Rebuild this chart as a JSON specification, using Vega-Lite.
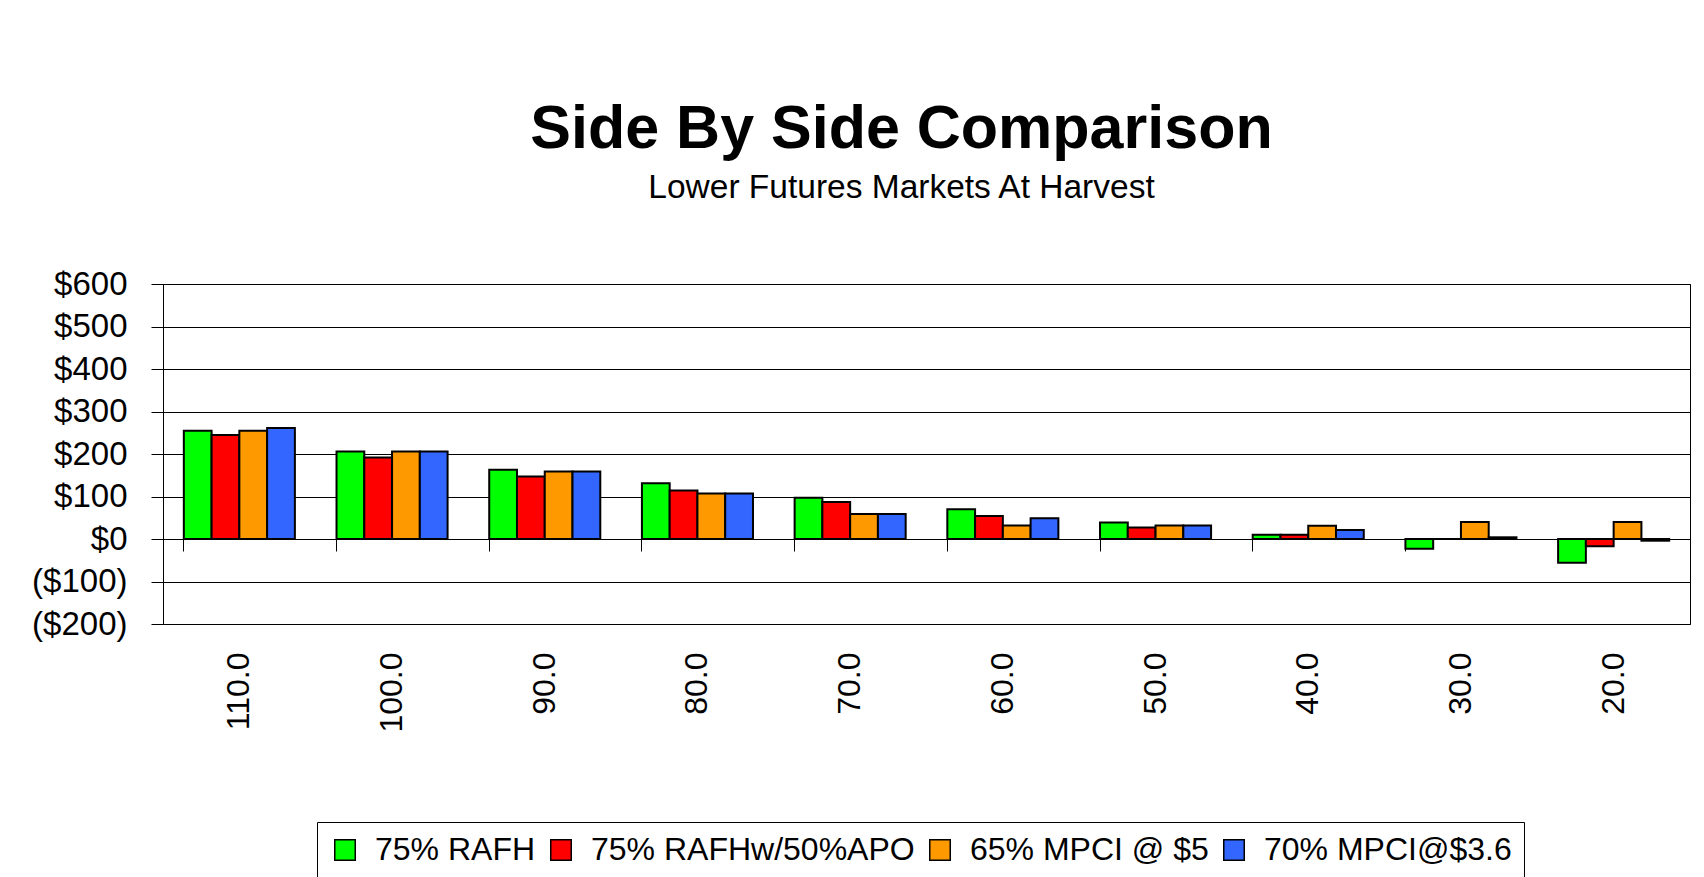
{
  "$schema": "https://vega.github.io/schema/vega-lite/v6.json",
  "autosize": {"type": "none"},
  "padding": {"left": 163, "top": 284, "right": 14, "bottom": 253},
  "width": 1527,
  "height": 340,
  "background": "white",
  "title": {
    "text": "Side By Side Comparison",
    "subtitle": "Lower Futures Markets At Harvest",
    "font": "Liberation Sans",
    "subtitleFont": "Liberation Sans",
    "fontSize": 61,
    "fontWeight": "bold",
    "subtitleFontSize": 33.5,
    "color": "black",
    "subtitleColor": "black",
    "anchor": "middle",
    "dx": -25,
    "offset": 63,
    "subtitlePadding": 11
  },
  "data": {
    "values": [
      {"price": "110.0", "plan": "75% RAFH", "value": 255},
      {"price": "110.0", "plan": "75% RAFHw/50%APO", "value": 245},
      {"price": "110.0", "plan": "65% MPCI @ $5", "value": 255},
      {"price": "110.0", "plan": "70% MPCI@$3.6", "value": 261},
      {"price": "100.0", "plan": "75% RAFH", "value": 206},
      {"price": "100.0", "plan": "75% RAFHw/50%APO", "value": 192},
      {"price": "100.0", "plan": "65% MPCI @ $5", "value": 206},
      {"price": "100.0", "plan": "70% MPCI@$3.6", "value": 206},
      {"price": "90.0", "plan": "75% RAFH", "value": 163},
      {"price": "90.0", "plan": "75% RAFHw/50%APO", "value": 147},
      {"price": "90.0", "plan": "65% MPCI @ $5", "value": 159},
      {"price": "90.0", "plan": "70% MPCI@$3.6", "value": 159},
      {"price": "80.0", "plan": "75% RAFH", "value": 131},
      {"price": "80.0", "plan": "75% RAFHw/50%APO", "value": 114},
      {"price": "80.0", "plan": "65% MPCI @ $5", "value": 107},
      {"price": "80.0", "plan": "70% MPCI@$3.6", "value": 107},
      {"price": "70.0", "plan": "75% RAFH", "value": 97},
      {"price": "70.0", "plan": "75% RAFHw/50%APO", "value": 87},
      {"price": "70.0", "plan": "65% MPCI @ $5", "value": 59},
      {"price": "70.0", "plan": "70% MPCI@$3.6", "value": 59},
      {"price": "60.0", "plan": "75% RAFH", "value": 70},
      {"price": "60.0", "plan": "75% RAFHw/50%APO", "value": 54},
      {"price": "60.0", "plan": "65% MPCI @ $5", "value": 32},
      {"price": "60.0", "plan": "70% MPCI@$3.6", "value": 49},
      {"price": "50.0", "plan": "75% RAFH", "value": 39},
      {"price": "50.0", "plan": "75% RAFHw/50%APO", "value": 27},
      {"price": "50.0", "plan": "65% MPCI @ $5", "value": 32},
      {"price": "50.0", "plan": "70% MPCI@$3.6", "value": 32},
      {"price": "40.0", "plan": "75% RAFH", "value": 10},
      {"price": "40.0", "plan": "75% RAFHw/50%APO", "value": 10},
      {"price": "40.0", "plan": "65% MPCI @ $5", "value": 31},
      {"price": "40.0", "plan": "70% MPCI@$3.6", "value": 21},
      {"price": "30.0", "plan": "75% RAFH", "value": -23},
      {"price": "30.0", "plan": "75% RAFHw/50%APO", "value": 0},
      {"price": "30.0", "plan": "65% MPCI @ $5", "value": 40},
      {"price": "30.0", "plan": "70% MPCI@$3.6", "value": 4},
      {"price": "20.0", "plan": "75% RAFH", "value": -56},
      {"price": "20.0", "plan": "75% RAFHw/50%APO", "value": -17},
      {"price": "20.0", "plan": "65% MPCI @ $5", "value": 40},
      {"price": "20.0", "plan": "70% MPCI@$3.6", "value": -4}
    ]
  },
  "mark": {"type": "bar", "stroke": "black", "strokeWidth": 2, "opacity": 1},
  "encoding": {
    "x": {
      "field": "price",
      "type": "nominal",
      "sort": null,
      "scale": {"paddingInner": 0.2727, "paddingOuter": 0.1364},
      "axis": {
        "title": null,
        "offset": -85,
        "domain": false,
        "ticks": true,
        "tickSize": 12,
        "tickColor": "black",
        "tickWidth": 1,
        "bandPosition": 0,
        "labelAngle": -90,
        "labelAlign": "right",
        "labelBaseline": "middle",
        "labelPadding": 101,
        "labelFont": "Liberation Sans",
        "labelFontSize": 32,
        "labelColor": "black",
        "grid": false
      }
    },
    "xOffset": {
      "field": "plan",
      "type": "nominal",
      "sort": ["75% RAFH", "75% RAFHw/50%APO", "65% MPCI @ $5", "70% MPCI@$3.6"],
      "scale": {"paddingInner": 0, "paddingOuter": 0}
    },
    "y": {
      "field": "value",
      "type": "quantitative",
      "scale": {"domain": [-200, 600], "nice": false, "zero": false},
      "axis": {
        "title": null,
        "values": [-200, -100, 0, 100, 200, 300, 400, 500, 600],
        "labelExpr": "datum.value < 0 ? '($' + abs(datum.value) + ')' : '$' + datum.value",
        "domain": false,
        "grid": true,
        "gridColor": "black",
        "gridWidth": 1,
        "gridOpacity": 1,
        "ticks": true,
        "tickSize": 12,
        "tickColor": "black",
        "tickWidth": 1,
        "labelPadding": 24,
        "labelFont": "Liberation Sans",
        "labelFontSize": 33,
        "labelColor": "black"
      }
    },
    "color": {
      "field": "plan",
      "type": "nominal",
      "sort": ["75% RAFH", "75% RAFHw/50%APO", "65% MPCI @ $5", "70% MPCI@$3.6"],
      "scale": {
        "domain": ["75% RAFH", "75% RAFHw/50%APO", "65% MPCI @ $5", "70% MPCI@$3.6"],
        "range": ["#00FF00", "#FF0000", "#FF9900", "#3366FF"]
      },
      "legend": {
        "title": null,
        "orient": "none",
        "legendX": 154,
        "legendY": 538,
        "direction": "horizontal",
        "columns": 4,
        "columnPadding": 9,
        "padding": 12,
        "strokeColor": "black",
        "fillColor": "white",
        "symbolType": "square",
        "symbolSize": 420,
        "symbolStrokeColor": "black",
        "symbolStrokeWidth": 1.5,
        "symbolOpacity": 1,
        "labelOffset": 14,
        "labelFont": "Liberation Sans",
        "labelFontSize": 32,
        "labelColor": "black",
        "labelLimit": 600
      }
    }
  },
  "config": {
    "view": {"stroke": "black", "strokeWidth": 1},
    "font": "Liberation Sans"
  }
}
